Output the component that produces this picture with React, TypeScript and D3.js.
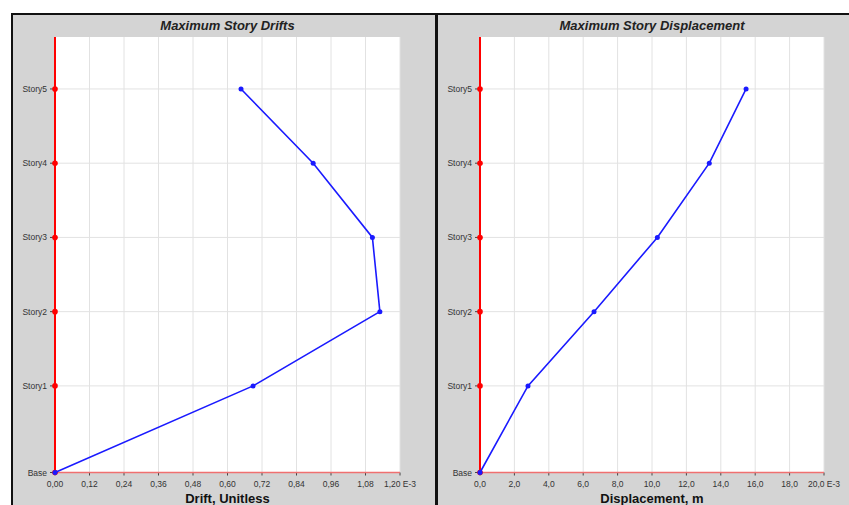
import React from "react";
import * as d3 from "d3";

// story levels (elevation, m) read from the spacing of the rows
const stories = ["Base", "Story1", "Story2", "Story3", "Story4", "Story5"];
const elevations = [0, 3.5, 6.5, 9.5, 12.5, 15.5];

// drift values, E-3
const driftValues = [0, 0.689, 1.13, 1.104, 0.898, 0.647];
const driftTicks = [0, 0.12, 0.24, 0.36, 0.48, 0.6, 0.72, 0.84, 0.96, 1.08, 1.2];

// displacement values, E-3 m
const dispValues = [0, 2.79, 6.63, 10.31, 13.33, 15.47];
const dispTicks = [0, 2, 4, 6, 8, 10, 12, 14, 16, 18, 20];

const font = "'Liberation Sans', Arial, sans-serif";

function Panel({ x0, x1, title, axisTitle, values, ticks, fmt, frameX, frameW }) {
  const top = 37;
  const base = 472.5;
  const x = d3.scaleLinear().domain([0, ticks[ticks.length - 1]]).range([x0, x1]);
  const y = d3.scaleLinear().domain([0, 17.6]).range([base, top]);
  const pts = values.map((v, i) => [x(v), y(elevations[i])]);
  const line = d3.line();
  const cx = (x0 + x1) / 2;

  return (
    <g>
      <rect x={frameX} y={14} width={frameW} height={500} fill="#d4d4d4" stroke="#111" strokeWidth={2} />
      <text x={cx} y={29.5} textAnchor="middle" fontFamily={font} fontSize={13} fontWeight="bold" fontStyle="italic" fill="#222">
        {title}
      </text>
      <rect x={x0} y={top} width={x1 - x0} height={base - top} fill="#fff" />
      {ticks.map((t, i) => (
        <line key={"gx" + i} x1={x(t)} x2={x(t)} y1={top} y2={base} stroke="#e2e2e2" strokeWidth={1} />
      ))}
      {elevations.map((e, i) => (
        <line key={"gy" + i} x1={x0} x2={x1} y1={y(e)} y2={y(e)} stroke="#e2e2e2" strokeWidth={1} />
      ))}
      {ticks.map((t, i) => (
        <g key={"tx" + i}>
          <line x1={x(t)} x2={x(t)} y1={base} y2={base + 3} stroke="#444" strokeWidth={1} />
          <text x={x(t)} y={487} textAnchor="middle" fontFamily={font} fontSize={8.5} fill="#333">
            {fmt(t) + (i === ticks.length - 1 ? " E-3" : "")}
          </text>
        </g>
      ))}
      <line x1={x0} x2={x1} y1={base} y2={base} stroke="#f07070" strokeWidth={1.5} />
      <line x1={x0} x2={x0} y1={top} y2={base} stroke="#ff0000" strokeWidth={2} />
      {stories.map((s, i) => (
        <g key={"sy" + i}>
          <line x1={x0 - 5} x2={x0} y1={y(elevations[i])} y2={y(elevations[i])} stroke="#444" strokeWidth={1} />
          <text x={x0 - 8} y={y(elevations[i]) + 3} textAnchor="end" fontFamily={font} fontSize={8.5} fill="#333">
            {s}
          </text>
          <circle cx={x0} cy={y(elevations[i])} r={2.8} fill="#ff0000" />
        </g>
      ))}
      <path d={line(pts)} fill="none" stroke="#1a1aff" strokeWidth={1.6} />
      {pts.map((p, i) => (
        <circle key={"p" + i} cx={p[0]} cy={p[1]} r={2.5} fill="#1a1aff" />
      ))}
      <text x={cx} y={503} textAnchor="middle" fontFamily={font} fontSize={13} fontWeight="bold" fill="#111">
        {axisTitle}
      </text>
    </g>
  );
}

export default function App() {
  const f2 = d3.format(".2f");
  const f1 = d3.format(".1f");
  return (
    <svg width={849} height={505} style={{ position: "absolute", left: 0, top: 0, background: "#fff" }}>
      <Panel
        x0={55}
        x1={400}
        title="Maximum Story Drifts"
        axisTitle="Drift, Unitless"
        values={driftValues}
        ticks={driftTicks}
        fmt={(t) => f2(t).replace(".", ",")}
        frameX={12}
        frameW={424}
      />
      <Panel
        x0={480}
        x1={824}
        title="Maximum Story Displacement"
        axisTitle="Displacement, m"
        values={dispValues}
        ticks={dispTicks}
        fmt={(t) => f1(t).replace(".", ",")}
        frameX={437}
        frameW={420}
      />
    </svg>
  );
}
